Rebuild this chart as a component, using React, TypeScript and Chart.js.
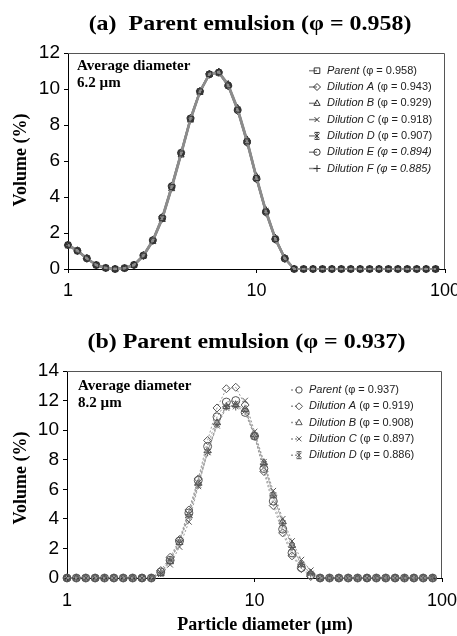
import React, { useEffect, useRef } from "react";
import { Chart, registerables } from "chart.js";
Chart.register(...registerables);

// ---------- data ----------
const diameters = [
  1, 1.122, 1.259, 1.413, 1.585, 1.778, 1.995, 2.239, 2.512, 2.818,
  3.162, 3.548, 3.981, 4.467, 5.012, 5.623, 6.31, 7.079, 7.943, 8.913,
  10, 11.22, 12.59, 14.13, 15.85, 17.78, 19.95, 22.39, 25.12, 28.18,
  31.62, 35.48, 39.81, 44.67, 50.12, 56.23, 63.1, 70.79, 79.43, 89.13,
];
const xTickValues = [1, 10, 100];
const xTickLabels = ["1", "10", "100"];

// (a) parent emulsion phi = 0.958
const aParent = [1.34, 1.02, 0.59, 0.22, 0.06, 0.0, 0.04, 0.22, 0.74, 1.58, 2.82, 4.55, 6.42, 8.35, 9.87, 10.83, 10.93, 10.2, 8.85, 7.09, 5.05, 3.19, 1.67, 0.59, 0, 0, 0, 0, 0, 0, 0, 0, 0, 0, 0, 0, 0, 0, 0, 0];
const aDilA = [1.32, 1.0, 0.57, 0.21, 0.05, 0.01, 0.05, 0.24, 0.78, 1.62, 2.9, 4.62, 6.48, 8.4, 9.9, 10.85, 10.95, 10.15, 8.78, 7.0, 4.98, 3.12, 1.62, 0.56, 0.02, 0, 0, 0, 0, 0, 0, 0, 0, 0, 0, 0, 0, 0, 0, 0];
const aDilB = [1.36, 1.04, 0.61, 0.23, 0.06, 0, 0.03, 0.2, 0.7, 1.52, 2.74, 4.45, 6.32, 8.26, 9.8, 10.8, 10.96, 10.28, 8.95, 7.2, 5.15, 3.28, 1.74, 0.62, 0.01, 0, 0, 0, 0, 0, 0, 0, 0, 0, 0, 0, 0, 0, 0, 0];
const aDilC = [1.3, 0.99, 0.58, 0.22, 0.06, 0, 0.04, 0.23, 0.76, 1.6, 2.86, 4.58, 6.45, 8.38, 9.88, 10.82, 10.9, 10.18, 8.82, 7.05, 5.02, 3.16, 1.65, 0.58, 0, 0, 0, 0, 0, 0, 0, 0, 0, 0, 0, 0, 0, 0, 0, 0];
const aDilD = [1.35, 1.03, 0.6, 0.22, 0.05, 0, 0.04, 0.21, 0.72, 1.55, 2.78, 4.5, 6.38, 8.3, 9.84, 10.8, 10.92, 10.22, 8.9, 7.14, 5.1, 3.24, 1.7, 0.61, 0, 0, 0, 0, 0, 0, 0, 0, 0, 0, 0, 0, 0, 0, 0, 0];
const aDilE = [1.33, 1.01, 0.59, 0.22, 0.06, 0, 0.05, 0.23, 0.75, 1.6, 2.85, 4.6, 6.46, 8.36, 9.86, 10.81, 10.91, 10.19, 8.83, 7.06, 5.03, 3.17, 1.66, 0.58, 0, 0, 0, 0, 0, 0, 0, 0, 0, 0, 0, 0, 0, 0, 0, 0];
const aDilF = [1.34, 1.02, 0.6, 0.23, 0.06, 0, 0.04, 0.22, 0.73, 1.56, 2.8, 4.52, 6.4, 8.33, 9.86, 10.84, 10.94, 10.22, 8.88, 7.12, 5.08, 3.21, 1.69, 0.6, 0, 0, 0, 0, 0, 0, 0, 0, 0, 0, 0, 0, 0, 0, 0, 0];
const aNames = ["Parent", "Dilution A", "Dilution B", "Dilution C", "Dilution D", "Dilution E", "Dilution F"];
const aPhis = ["0.958", "0.943", "0.929", "0.918", "0.907", "0.894", "0.885"];
const aYTicks = [0, 2, 4, 6, 8, 10, 12];

// (b) parent emulsion phi = 0.937
const bParent = [0, 0, 0, 0, 0, 0, 0, 0, 0, 0, 0.4, 1.2, 2.5, 4.4, 6.6, 8.9, 10.9, 11.9, 12.0, 11.2, 9.6, 7.4, 5.2, 3.3, 1.7, 0.7, 0.2, 0, 0, 0, 0, 0, 0, 0, 0, 0, 0, 0, 0, 0];
const bDilA = [0, 0, 0, 0, 0, 0, 0, 0, 0, 0, 0.5, 1.4, 2.6, 4.6, 6.7, 9.3, 11.5, 12.8, 12.9, 11.7, 9.6, 7.2, 4.9, 3.05, 1.5, 0.63, 0.1, 0, 0, 0, 0, 0, 0, 0, 0, 0, 0, 0, 0, 0];
const bDilB = [0, 0, 0, 0, 0, 0, 0, 0, 0, 0, 0.3, 1.1, 2.4, 4.2, 6.4, 8.6, 10.5, 11.6, 11.7, 11.4, 9.7, 7.8, 5.6, 3.8, 2.2, 0.9, 0.34, 0, 0, 0, 0, 0, 0, 0, 0, 0, 0, 0, 0, 0];
const bDilC = [0, 0, 0, 0, 0, 0, 0, 0, 0, 0, 0.25, 0.9, 2.1, 3.8, 6.2, 8.5, 10.3, 11.5, 11.8, 12.0, 9.9, 7.86, 5.9, 4.0, 2.5, 1.24, 0.52, 0, 0, 0, 0, 0, 0, 0, 0, 0, 0, 0, 0, 0];
const bDilD = [0, 0, 0, 0, 0, 0, 0, 0, 0, 0, 0.35, 1.2, 2.5, 4.3, 6.3, 8.5, 10.4, 11.6, 11.6, 11.3, 9.6, 7.7, 5.6, 3.7, 2.1, 0.9, 0.3, 0, 0, 0, 0, 0, 0, 0, 0, 0, 0, 0, 0, 0];
const bNames = ["Parent", "Dilution A", "Dilution B", "Dilution C", "Dilution D"];
const bPhis = ["0.937", "0.919", "0.908", "0.897", "0.886"];
const bYTicks = [0, 2, 4, 6, 8, 10, 12, 14];

// ---------- styles ----------
const SERIF = '"Liberation Serif", "Times New Roman", serif';
const SANS = '"Liberation Sans", Arial, sans-serif';
const aStyles = ["rect", "rectRot", "triangle", "crossRot", "star", "circle", "cross"];
const bStyles = ["circle", "rectRot", "triangle", "crossRot", "star"];

function drawMarker(ctx: CanvasRenderingContext2D, style: string, x: number, y: number, r: number) {
  ctx.beginPath();
  switch (style) {
    case "rect":
      ctx.rect(x - r * 0.8, y - r * 0.8, r * 1.6, r * 1.6);
      break;
    case "rectRot":
      ctx.moveTo(x, y - r);
      ctx.lineTo(x + r, y);
      ctx.lineTo(x, y + r);
      ctx.lineTo(x - r, y);
      ctx.closePath();
      break;
    case "triangle":
      ctx.moveTo(x, y - r);
      ctx.lineTo(x + r * 0.9, y + r * 0.6);
      ctx.lineTo(x - r * 0.9, y + r * 0.6);
      ctx.closePath();
      break;
    case "crossRot":
      ctx.moveTo(x - r * 0.7, y - r * 0.7);
      ctx.lineTo(x + r * 0.7, y + r * 0.7);
      ctx.moveTo(x + r * 0.7, y - r * 0.7);
      ctx.lineTo(x - r * 0.7, y + r * 0.7);
      break;
    case "star":
      ctx.moveTo(x - r * 0.7, y - r * 0.7);
      ctx.lineTo(x + r * 0.7, y + r * 0.7);
      ctx.moveTo(x + r * 0.7, y - r * 0.7);
      ctx.lineTo(x - r * 0.7, y + r * 0.7);
      ctx.moveTo(x, y - r);
      ctx.lineTo(x, y + r);
      ctx.moveTo(x - r * 0.7, y - r);
      ctx.lineTo(x + r * 0.7, y - r);
      ctx.moveTo(x - r * 0.7, y + r);
      ctx.lineTo(x + r * 0.7, y + r);
      break;
    case "circle":
      ctx.arc(x, y, r * 0.9, 0, Math.PI * 2);
      break;
    case "cross":
      ctx.moveTo(x - r, y);
      ctx.lineTo(x + r, y);
      ctx.moveTo(x, y - r);
      ctx.lineTo(x, y + r);
      break;
  }
  ctx.stroke();
}

type Deco = {
  title: string;
  titleX: number;
  titleY: number;
  avgLines: string[];
  avgX: number;
  avgY: number;
  yTitleY: number;
  xTitle?: string;
  xTitleX?: number;
  xTitleY?: number;
  legendX: number;
  legendY: number;
  legendStep: number;
  names: string[];
  phis: string[];
  styles: string[];
  italicAll: boolean[];
  markerColor: string;
  lineColor: string;
  dash: number[];
};

function decoPlugin(d: Deco) {
  return {
    id: "deco",
    afterDraw(chart: any) {
      const ctx: CanvasRenderingContext2D = chart.ctx;
      const a = chart.chartArea;
      ctx.save();
      // frame top/right
      ctx.strokeStyle = "#555";
      ctx.lineWidth = 1;
      ctx.beginPath();
      ctx.moveTo(a.left, Math.round(a.top) + 0.5);
      ctx.lineTo(Math.round(a.right) - 0.5, Math.round(a.top) + 0.5);
      ctx.lineTo(Math.round(a.right) - 0.5, a.bottom);
      ctx.stroke();

      // title (slightly widened like the reference typeface)
      ctx.fillStyle = "#000";
      ctx.save();
      ctx.translate(d.titleX, d.titleY);
      ctx.scale(1.14, 1);
      ctx.font = `bold 21px ${SERIF}`;
      ctx.textAlign = "center";
      ctx.textBaseline = "alphabetic";
      ctx.fillText(d.title, 0, 0);
      ctx.restore();

      // y title
      ctx.save();
      ctx.translate(21, d.yTitleY);
      ctx.rotate(-Math.PI / 2);
      ctx.font = `bold 18px ${SERIF}`;
      ctx.textAlign = "center";
      ctx.textBaseline = "middle";
      ctx.fillText("Volume (%)", 0, 0);
      ctx.restore();

      // x title
      if (d.xTitle) {
        ctx.font = `bold 18px ${SERIF}`;
        ctx.textAlign = "center";
        ctx.textBaseline = "middle";
        ctx.fillText(d.xTitle, d.xTitleX as number, d.xTitleY as number);
      }

      // average diameter annotation
      ctx.font = `bold 15px ${SERIF}`;
      ctx.textAlign = "left";
      ctx.textBaseline = "middle";
      d.avgLines.forEach((t, i) => ctx.fillText(t, d.avgX, d.avgY + i * 17));

      // legend
      d.names.forEach((name, i) => {
        const y = d.legendY + i * d.legendStep;
        const mx = d.legendX - 10;
        ctx.strokeStyle = d.lineColor;
        ctx.lineWidth = 1.5;
        ctx.setLineDash(d.dash);
        ctx.beginPath();
        ctx.moveTo(mx - 8, y);
        ctx.lineTo(mx, y);
        ctx.stroke();
        ctx.setLineDash([]);
        ctx.strokeStyle = d.markerColor;
        ctx.lineWidth = 1;
        drawMarker(ctx, d.styles[i], mx, y, 3.5);
        ctx.fillStyle = "#222";
        ctx.textAlign = "left";
        ctx.textBaseline = "middle";
        ctx.font = `italic 11px ${SANS}`;
        const label = name + " ";
        ctx.fillText(label, d.legendX, y);
        const w = ctx.measureText(label).width;
        ctx.font = `${d.italicAll[i] ? "italic " : ""}11px ${SANS}`;
        ctx.fillText(`(\u03c6 = ${d.phis[i]})`, d.legendX + w, y);
      });
      ctx.restore();
    },
  };
}

function buildConfig(opts: {
  series: number[][];
  styles: string[];
  yTicks: number[];
  lineColor: string;
  lineWidth: number;
  dash: number[];
  markerColor: string;
  markerRadius: number;
  padTop: number;
  padRight: number;
  yWidth: number;
  xHeight: number;
  xPad: number;
  deco: Deco;
}) {
  const datasets = opts.series.map((vals, i) => ({
    label: String(i),
    data: diameters.map((d, k) => ({ x: d, y: vals[k] })),
    borderColor: opts.lineColor,
    borderWidth: opts.lineWidth,
    borderDash: opts.dash,
    tension: 0,
    fill: false,
    clip: false as any,
    pointStyle: opts.styles[i],
    pointRadius: opts.markerRadius,
    pointBorderColor: opts.markerColor,
    pointBorderWidth: 1,
    pointBackgroundColor: "rgba(255,255,255,0)",
  }));
  const yMax = opts.yTicks[opts.yTicks.length - 1];
  return {
    type: "line" as const,
    data: { datasets },
    options: {
      responsive: false,
      animation: false as const,
      events: [],
      layout: { padding: { left: 0, right: opts.padRight, top: opts.padTop, bottom: 0 } },
      plugins: { legend: { display: false }, title: { display: false }, tooltip: { enabled: false } },
      scales: {
        x: {
          type: "logarithmic" as const,
          min: 1,
          max: 100,
          afterBuildTicks: (s: any) => {
            s.ticks = xTickValues.map((v) => ({ value: v }));
          },
          afterFit: (s: any) => {
            s.height = opts.xHeight;
            s.paddingLeft = 0;
            s.paddingRight = 0;
          },
          ticks: {
            autoSkip: false,
            maxRotation: 0,
            padding: opts.xPad,
            color: "#000",
            font: { family: SANS, size: 18 },
            callback: (v: any) => {
              const idx = xTickValues.indexOf(Number(v));
              return idx >= 0 ? xTickLabels[idx] : "";
            },
          },
          grid: { drawOnChartArea: false, drawTicks: true, tickLength: 4, color: "#000" },
          border: { display: true, color: "#000", width: 1 },
        },
        y: {
          type: "linear" as const,
          min: 0,
          max: yMax,
          afterBuildTicks: (s: any) => {
            s.ticks = opts.yTicks.map((v) => ({ value: v }));
          },
          afterFit: (s: any) => {
            s.width = opts.yWidth;
            s.paddingTop = 0;
            s.paddingBottom = 0;
          },
          ticks: {
            padding: 4,
            color: "#000",
            font: { family: SANS, size: 19 },
            callback: (v: any) => String(v),
          },
          grid: { drawOnChartArea: false, drawTicks: true, tickLength: 4, color: "#000" },
          border: { display: true, color: "#000", width: 1 },
        },
      },
    },
    plugins: [decoPlugin(opts.deco)],
  };
}

function ChartCanvas({ make, width, height }: { make: () => any; width: number; height: number }) {
  const ref = useRef<HTMLCanvasElement | null>(null);
  useEffect(() => {
    if (!ref.current) return;
    const c = new Chart(ref.current, make());
    return () => c.destroy();
  }, []);
  return <canvas ref={ref} width={width} height={height} style={{ display: "block", width, height }} />;
}

export default function App() {
  const makeA = () =>
    buildConfig({
      series: [aParent, aDilA, aDilB, aDilC, aDilD, aDilE, aDilF],
      styles: aStyles,
      yTicks: aYTicks,
      lineColor: "#8c8c8c",
      lineWidth: 2,
      dash: [],
      markerColor: "#333",
      markerRadius: 3.5,
      padTop: 53,
      padRight: 12,
      yWidth: 68,
      xHeight: 31,
      xPad: 7,
      deco: {
        title: "(a)  Parent emulsion (\u03c6 = 0.958)",
        titleX: 250,
        titleY: 29.5,
        avgLines: ["Average diameter", "6.2 \u00b5m"],
        avgX: 77,
        avgY: 66,
        yTitleY: 160,
        legendX: 327,
        legendY: 70.7,
        legendStep: 16.3,
        names: aNames,
        phis: aPhis,
        styles: aStyles,
        italicAll: [false, false, false, false, false, true, true],
        markerColor: "#333",
        lineColor: "#8c8c8c",
        dash: [],
      },
    });
  const makeB = () =>
    buildConfig({
      series: [bParent, bDilA, bDilB, bDilC, bDilD],
      styles: bStyles,
      yTicks: bYTicks,
      lineColor: "#9a9a9a",
      lineWidth: 1,
      dash: [2, 2],
      markerColor: "#555",
      markerRadius: 4,
      padTop: 71,
      padRight: 15,
      yWidth: 67,
      xHeight: 58,
      xPad: 8,
      deco: {
        title: "(b) Parent emulsion (\u03c6 = 0.937)",
        titleX: 246.5,
        titleY: 48,
        avgLines: ["Average diameter", "8.2 \u00b5m"],
        avgX: 78,
        avgY: 86,
        yTitleY: 178,
        xTitle: "Particle diameter (\u00b5m)",
        xTitleX: 265,
        xTitleY: 325,
        legendX: 309,
        legendY: 90,
        legendStep: 16.3,
        names: bNames,
        phis: bPhis,
        styles: bStyles,
        italicAll: [false, false, false, false, false],
        markerColor: "#555",
        lineColor: "#9a9a9a",
        dash: [2, 2],
      },
    });
  return (
    <div style={{ position: "absolute", left: 0, top: 0, width: 457, height: 636, background: "#fff" }}>
      <ChartCanvas make={makeA} width={457} height={300} />
      <ChartCanvas make={makeB} width={457} height={336} />
    </div>
  );
}
